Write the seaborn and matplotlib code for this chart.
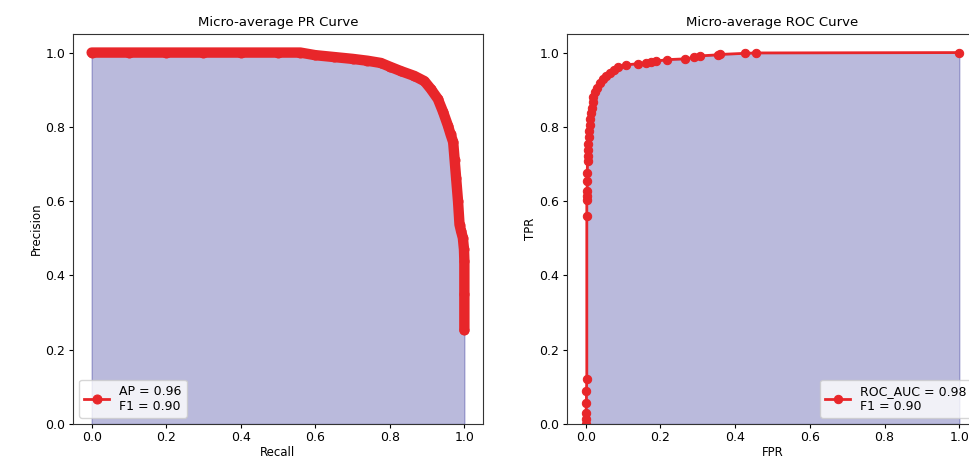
import matplotlib
matplotlib.use("Agg")
import pandas as pd
import seaborn as sns
import matplotlib.pyplot as plt

# Micro-average PR curve
recall = [0.000, 0.100, 0.200, 0.300, 0.400, 0.500, 0.560, 0.600, 0.650, 0.700,
          0.740, 0.776, 0.800, 0.830, 0.866, 0.893, 0.910, 0.929, 0.943, 0.956,
          0.963, 0.970, 0.974, 0.978, 0.983, 0.987, 0.991, 0.996, 0.999, 1.000,
          1.000, 1.000]
precision = [1.000, 1.000, 1.000, 1.000, 1.000, 1.000, 1.000, 0.993, 0.988, 0.983,
             0.978, 0.972, 0.962, 0.950, 0.937, 0.923, 0.902, 0.875, 0.840, 0.803,
             0.780, 0.759, 0.710, 0.661, 0.600, 0.537, 0.520, 0.501, 0.470, 0.439,
             0.350, 0.253]

# Micro-average ROC curve
fpr = [0.000, 0.001, 0.001, 0.002, 0.002, 0.003, 0.003, 0.003, 0.004, 0.004,
       0.004, 0.004, 0.005, 0.005, 0.006, 0.007, 0.008, 0.009, 0.011, 0.012,
       0.015, 0.017, 0.019, 0.020, 0.024, 0.029, 0.037, 0.046, 0.055, 0.064,
       0.075, 0.086, 0.109, 0.140, 0.162, 0.176, 0.189, 0.218, 0.265, 0.291,
       0.305, 0.355, 0.360, 0.427, 0.456, 1.000]
tpr = [0.000, 0.013, 0.030, 0.057, 0.088, 0.121, 0.561, 0.602, 0.615, 0.626,
       0.655, 0.677, 0.707, 0.722, 0.739, 0.755, 0.772, 0.790, 0.806, 0.822,
       0.837, 0.852, 0.866, 0.880, 0.893, 0.905, 0.917, 0.928, 0.937, 0.944,
       0.953, 0.962, 0.967, 0.970, 0.973, 0.974, 0.977, 0.981, 0.983, 0.987,
       0.991, 0.994, 0.995, 0.998, 0.999, 1.000]

ap_label = "AP = 0.96\nF1 = 0.90"
roc_label = "ROC_AUC = 0.98\nF1 = 0.90"

RED = "#e8262a"
FILL = "navy"

plt.rcParams["font.size"] = 9
plt.rcParams["xtick.major.size"] = 3
plt.rcParams["ytick.major.size"] = 3
plt.rcParams["xtick.major.pad"] = 2
plt.rcParams["ytick.major.pad"] = 2.5
plt.rcParams["axes.labelpad"] = 1.5

fig = plt.figure(figsize=(9.7, 4.62), dpi=100)
ax1 = fig.add_axes([73 / 970, 38 / 462, 410 / 970, 390 / 462])
ax2 = fig.add_axes([567 / 970, 38 / 462, 411 / 970, 390 / 462])

pr = pd.DataFrame({"recall": recall, "precision": precision})
roc = pd.DataFrame({"fpr": fpr, "tpr": tpr})

# PR curve: the dense points in the original merge into a thick band
ax1.fill_between(pr["recall"], pr["precision"], color=FILL, alpha=0.27, lw=1)
ax1.plot(pr["recall"], pr["precision"], color=RED, lw=7.5,
         solid_capstyle="round", solid_joinstyle="round")
sns.lineplot(data=pr, x="recall", y="precision", ax=ax1, sort=False, estimator=None,
             color=RED, lw=2, marker="o", markersize=6.5, markeredgecolor=RED,
             label=ap_label)
ax1.set_xlim(-0.05, 1.05)
ax1.set_ylim(0, 1.05)
ax1.set_title("Micro-average PR Curve", fontsize=9.5)
ax1.set_xlabel("Recall", fontsize=8.5)
ax1.set_ylabel("Precision", fontsize=8.5)
ax1.legend(loc="lower left")

# ROC curve
ax2.fill_between(roc["fpr"], roc["tpr"], color=FILL, alpha=0.27, lw=1)
sns.lineplot(data=roc, x="fpr", y="tpr", ax=ax2, sort=False, estimator=None,
             color=RED, lw=2, marker="o", markersize=6, markeredgecolor=RED,
             label=roc_label)
ax2.set_xlim(-0.05, 1.05)
ax2.set_ylim(0, 1.05)
ax2.set_title("Micro-average ROC Curve", fontsize=9.5)
ax2.set_xlabel("FPR", fontsize=8.5)
ax2.set_ylabel("TPR", fontsize=8.5)
ax2.legend(loc="lower right")

for ax in (ax1, ax2):
    ax.set_xticks([0, 0.2, 0.4, 0.6, 0.8, 1.0])
    ax.set_yticks([0, 0.2, 0.4, 0.6, 0.8, 1.0])
    for s in ax.spines.values():
        s.set_color("#333333")

fig.savefig("out.png", dpi=100)
